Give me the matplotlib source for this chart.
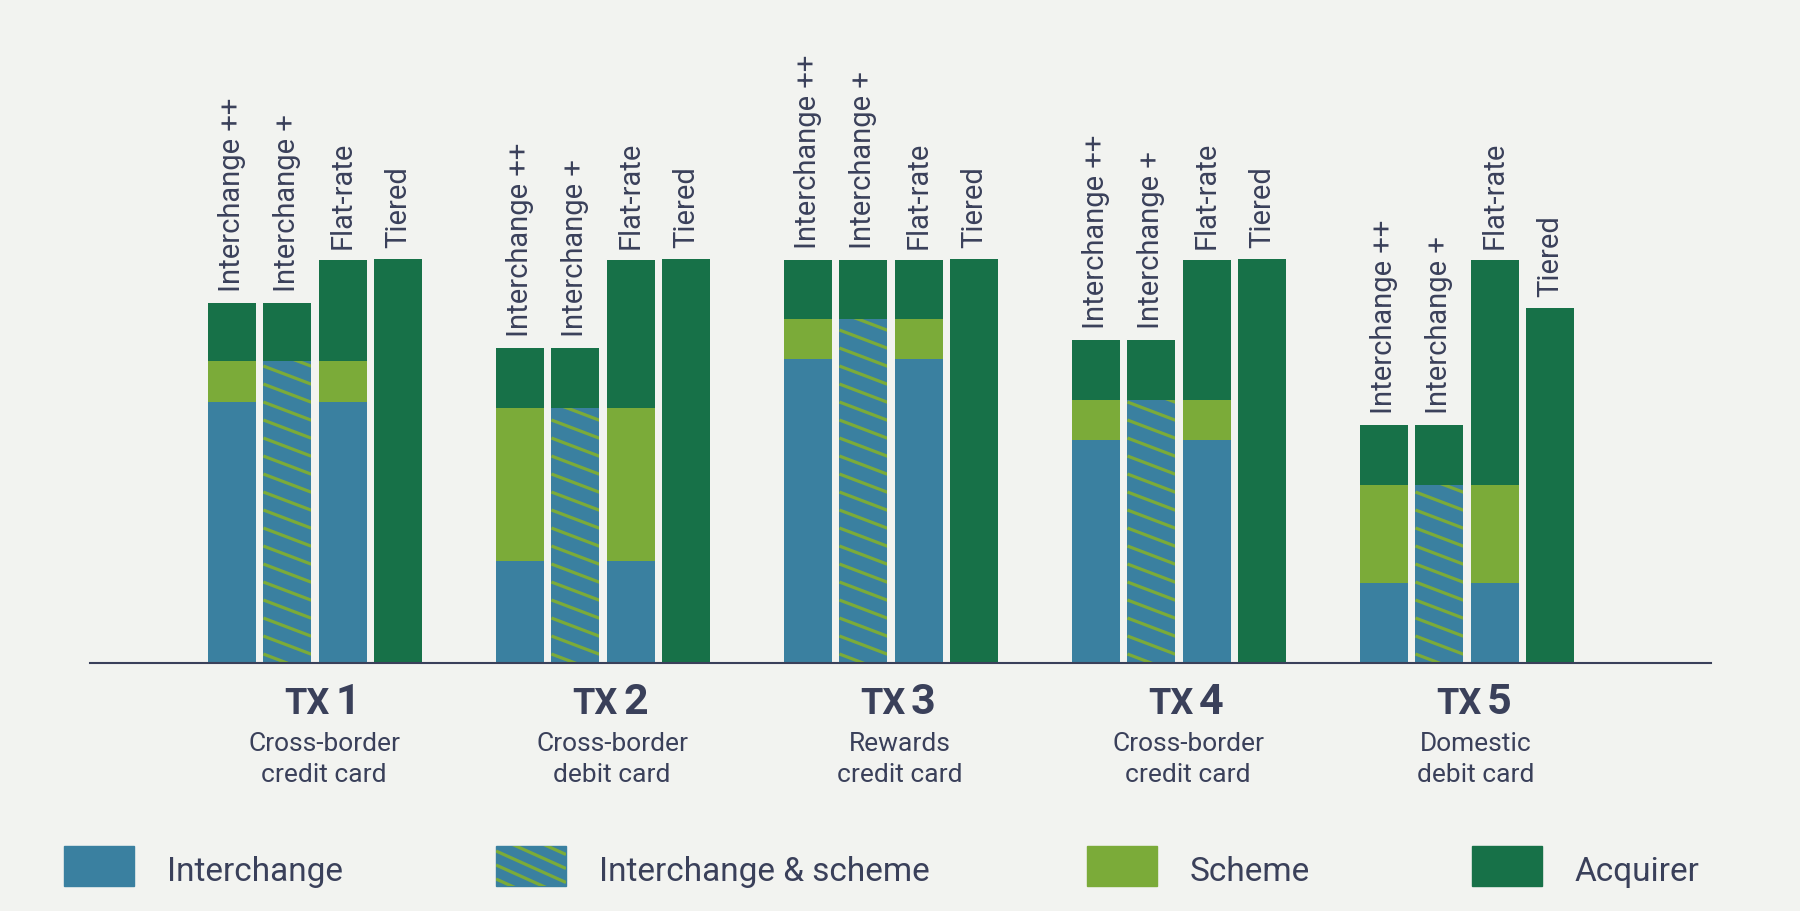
import numpy as np
import matplotlib.pyplot as plt
from matplotlib.patches import Rectangle
from matplotlib.transforms import blended_transform_factory

plt.rcParams['font.family'] = ['Roboto', 'DejaVu Sans']

# data (fee levels, arbitrary units)
tx_numbers = ['1', '2', '3', '4', '5']
tx_desc = ['Cross-border\ncredit card', 'Cross-border\ndebit card', 'Rewards\ncredit card',
           'Cross-border\ncredit card', 'Domestic\ndebit card']
models = ['Interchange ++', 'Interchange +', 'Flat-rate', 'Tiered']

interchange = [2.27, 0.89, 2.65, 1.94, 0.70]
scheme = [0.36, 1.33, 0.35, 0.35, 0.85]
acquirer = [0.51, 0.52, 0.51, 0.52, 0.52]
flat_rate = [3.51, 3.51, 3.51, 3.51, 3.51]
tiered = [3.52, 3.52, 3.52, 3.52, 3.09]

legend_labels = ['Interchange', 'Interchange & scheme', 'Scheme', 'Acquirer']

bg = '#f2f3f0'
blue = '#3a80a0'
lgreen = '#7bab39'
dgreen = '#177148'
txt = '#3a405a'

fig = plt.figure(figsize=(18, 9.12), dpi=100, facecolor=bg)
ax = fig.add_axes([89.5 / 1800, 248 / 912, 1621 / 1800, 664 / 912])
ax.set_facecolor(bg)
ax.set_xlim(-0.783, 4.845)
ax.set_ylim(0, 664 / 114.8)
for s in ['top', 'left', 'right']:
    ax.spines[s].set_visible(False)
ax.spines['bottom'].set_color(txt)
ax.spines['bottom'].set_linewidth(1.5)
ax.set_xticks([])
ax.set_yticks([])

# overlay in pixel coordinates for text / legend
lay = fig.add_axes([0, 0, 1, 1])
lay.set_xlim(0, 1800)
lay.set_ylim(912, 0)
lay.axis('off')


def hatch(axis, patch, gap, slope=0.38, lw=2.3):
    tr = axis.transData
    (ax0, ay0), (ax1, ay1) = tr.transform([
        (patch.get_x(), patch.get_y()),
        (patch.get_x() + patch.get_width(), patch.get_y() + patch.get_height())])
    xl, xr = min(ax0, ax1), max(ax0, ax1)
    yb, yt = min(ay0, ay1), max(ay0, ay1)
    span = slope * (xr - xl)
    for c in np.arange(yb + gap / 2, yt + span + gap, gap):
        pts = tr.inverted().transform([(xl, c), (xr, c - span)])
        ln, = axis.plot(pts[:, 0], pts[:, 1], color=lgreen, lw=lw,
                        solid_capstyle='butt', scalex=False, scaley=False)
        ln.set_clip_path(patch)


x = np.arange(len(tx_numbers))
step = 0.192
w = 0.1667
off = (np.arange(4) - 1.5) * step

ic = np.array(interchange)
sc = np.array(scheme)
aq = np.array(acquirer)
fr = np.array(flat_rate)
ti = np.array(tiered)

# Interchange ++
ax.bar(x + off[0], ic, w, color=blue)
ax.bar(x + off[0], sc, w, bottom=ic, color=lgreen)
ax.bar(x + off[0], aq, w, bottom=ic + sc, color=dgreen)
# Interchange +
hb = ax.bar(x + off[1], ic + sc, w, color=blue)
ax.bar(x + off[1], aq, w, bottom=ic + sc, color=dgreen)
for p in hb.patches:
    hatch(ax, p, 18)
# Flat-rate
ax.bar(x + off[2], ic, w, color=blue)
ax.bar(x + off[2], sc, w, bottom=ic, color=lgreen)
ax.bar(x + off[2], fr - ic - sc, w, bottom=ic + sc, color=dgreen)
# Tiered
ax.bar(x + off[3], ti, w, color=dgreen)

tops = [ic + sc + aq, ic + sc + aq, fr, ti]
for j, name in enumerate(models):
    for i in x:
        ax.annotate(name, (x[i] + off[j], tops[j][i]), xytext=(0, 12),
                    textcoords='offset pixels', rotation=90, ha='center',
                    va='bottom', fontsize=21, color=txt)

bt = blended_transform_factory(ax.transData, lay.transData)
for i in x:
    ax.annotate('TX', (x[i], 714), xycoords=bt, xytext=(15, 0), textcoords='offset pixels',
                ha='right', va='baseline', fontsize=26, fontweight='bold', color=txt)
    ax.annotate(tx_numbers[i], (x[i], 714), xycoords=bt, xytext=(20, 0),
                textcoords='offset pixels', ha='left', va='baseline', fontsize=31,
                fontweight='bold', color=txt)
    for k, line in enumerate(tx_desc[i].split('\n')):
        ax.annotate(line, (x[i], 751 + 31 * k), xycoords=bt, xytext=(9, 0),
                    textcoords='offset pixels', ha='center', va='baseline',
                    fontsize=19, color=txt)

# legend
leg_x = [64, 496, 1087, 1472]
leg_col = [blue, blue, lgreen, dgreen]
for lx, col, lab in zip(leg_x, leg_col, legend_labels):
    r = Rectangle((lx, 847), 70, 40, color=col)
    lay.add_patch(r)
    if lab == 'Interchange & scheme':
        hatch(lay, r, 14, slope=0.45, lw=2.3)
    lay.text(lx + 103, 881, lab, fontsize=24, color=txt, va='baseline', ha='left')

fig.savefig('out.png', dpi=100, facecolor=bg)
